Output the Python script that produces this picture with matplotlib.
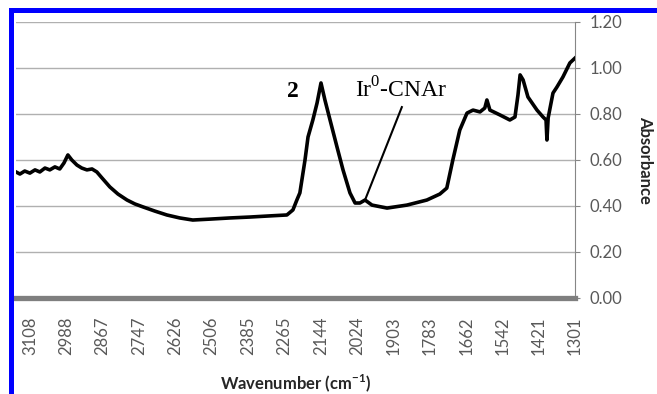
import matplotlib
matplotlib.use("Agg")
import matplotlib.pyplot as plt
from matplotlib.patches import Rectangle

# IR spectrum (wavenumber in cm-1, absorbance)
wavenumber = [3154, 3141, 3125, 3108, 3091, 3075, 3058, 3042, 3025, 3009,
              2995, 2982, 2969, 2952, 2936, 2919, 2902, 2886, 2869, 2843,
              2816, 2786, 2760, 2733, 2694, 2654, 2611, 2568, 2511, 2445,
              2379, 2312, 2256, 2236, 2223, 2213, 2196, 2186, 2170, 2156,
              2143, 2130, 2113, 2090, 2070, 2047, 2030, 2014, 1997, 1974,
              1924, 1858, 1792, 1749, 1726, 1706, 1683, 1659, 1639, 1616,
              1600, 1593, 1583, 1550, 1517, 1500, 1490, 1483, 1473, 1457,
              1427, 1407, 1397, 1394, 1390, 1374, 1361, 1341, 1318, 1301]
absorbance = [0.548, 0.539, 0.552, 0.543, 0.557, 0.548, 0.565, 0.557, 0.570, 0.561,
              0.587, 0.622, 0.600, 0.578, 0.565, 0.557, 0.561, 0.548, 0.522, 0.483,
              0.452, 0.426, 0.409, 0.396, 0.378, 0.361, 0.348, 0.339, 0.343, 0.348,
              0.352, 0.357, 0.361, 0.383, 0.426, 0.457, 0.600, 0.700, 0.774, 0.848,
              0.935, 0.861, 0.774, 0.657, 0.557, 0.457, 0.413, 0.413, 0.426, 0.404,
              0.391, 0.404, 0.426, 0.452, 0.478, 0.600, 0.730, 0.804, 0.817, 0.809,
              0.826, 0.861, 0.817, 0.796, 0.774, 0.787, 0.883, 0.970, 0.948, 0.874,
              0.817, 0.787, 0.774, 0.687, 0.783, 0.891, 0.917, 0.961, 1.022, 1.043]

x_ticks = [3108, 2988, 2867, 2747, 2626, 2506, 2385, 2265, 2144,
           2024, 1903, 1783, 1662, 1542, 1421, 1301]
y_ticks = [0.0, 0.2, 0.4, 0.6, 0.8, 1.0, 1.2]

plt.rcParams['font.family'] = ['Lato', 'DejaVu Sans']
plt.rcParams['mathtext.fontset'] = 'custom'
plt.rcParams['mathtext.rm'] = 'Liberation Serif'
plt.rcParams['mathtext.bf'] = 'Lato:bold'

W, H = 657, 394
fig = plt.figure(figsize=(W / 100, H / 100), dpi=100)
ax = fig.add_axes([16 / W, (H - 298) / H, (575 - 16) / W, 276 / H])

ax.plot(wavenumber, absorbance, color='black', lw=2.6, solid_joinstyle='round', zorder=3)

ax.set_xlim(3154, 1301)
ax.set_ylim(0, 1.2)
ax.set_xticks(x_ticks)
ax.set_xticklabels([str(t) for t in x_ticks], rotation=90)
ax.set_yticks(y_ticks)
ax.set_yticklabels(['%.2f' % t for t in y_ticks])
ax.yaxis.tick_right()
ax.yaxis.set_label_position('right')
ax.tick_params(axis='x', length=0, pad=13, labelsize=12, labelcolor='#595959')
ax.tick_params(axis='y', direction='out', length=3.6, width=0.8, color='#868686',
               pad=7, labelsize=12, labelcolor='#595959')
ax.grid(axis='y', color='#b0b0b0', lw=1.0)
ax.set_axisbelow(True)

for s in ('top', 'left'):
    ax.spines[s].set_visible(False)
ax.spines['right'].set_color('#868686')
ax.spines['right'].set_linewidth(0.8)
ax.spines['bottom'].set_color('#7f7f7f')
ax.spines['bottom'].set_linewidth(3.8)

ax.set_ylabel('Absorbance', rotation=270, fontweight='bold', fontsize=12,
              color='#262626', labelpad=22)
fig.text(296 / W, 1 - 383 / H, r'Wavenumber (cm$^{\mathbf{-1}}$)', fontweight='bold',
         fontsize=12, color='#262626', ha='center', va='center')

# annotations
ax.text(2256, 0.872, '2', family='Liberation Serif', fontweight='bold', fontsize=17,
        ha='left', va='baseline')
ax.text(2030, 0.872, r'Ir$^{\mathrm{0}}$-CNAr', family='Liberation Serif', fontsize=17,
        ha='left', va='baseline')
ax.plot([1875, 1997], [0.83, 0.426], color='black', lw=1.5, zorder=4)

# blue frame on left and top edges
fig.add_artist(Rectangle((9 / W, 0), 5 / W, (H - 8) / H, transform=fig.transFigure,
                         color='#0000ff', lw=0))
fig.add_artist(Rectangle((9 / W, 1 - 12.5 / H), (W - 9) / W, 4.5 / H,
                         transform=fig.transFigure, color='#0000ff', lw=0))

fig.savefig('out.png', dpi=100)
